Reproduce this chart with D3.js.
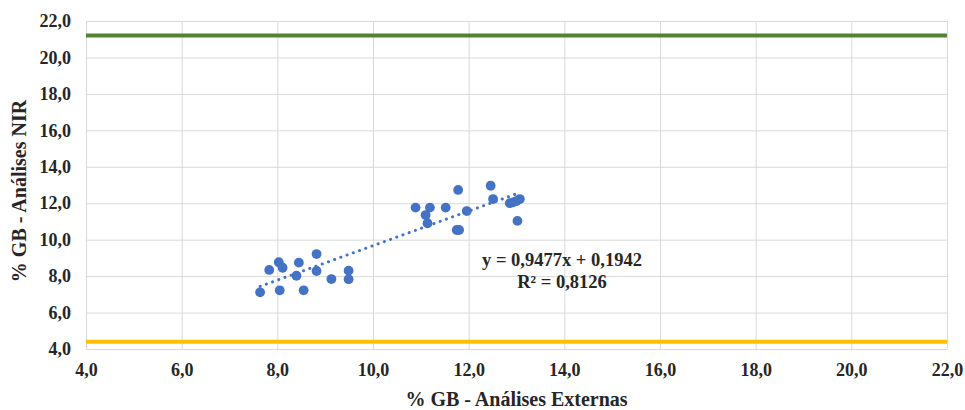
<!DOCTYPE html>
<html>
<head>
<meta charset="utf-8">
<script src="https://cdn.jsdelivr.net/npm/d3@7"></script>
<style>
  html, body { margin: 0; padding: 0; background: #fff; }
  svg { display: block; }
  text { font-family: "Liberation Serif", "Times New Roman", serif; font-weight: bold; fill: #262626; }
</style>
</head>
<body>
<svg id="chart" width="965" height="410"></svg>
<script>
// % GB measured by external lab (x) vs. NIR (y)
const externas = [7.64, 7.83, 8.03, 8.11, 8.05, 8.40, 8.45, 8.55, 8.82, 8.82, 9.13, 9.49, 9.49,
                  10.89, 11.19, 11.52, 11.78, 11.10, 11.14, 11.75, 11.80, 11.96, 12.46, 12.51,
                  12.86, 12.93, 13.00, 13.07, 13.02];
const nir      = [7.11, 8.34, 8.76, 8.46, 7.22, 8.02, 8.74, 7.22, 9.21, 8.28, 7.84, 8.30, 7.83,
                  11.76, 11.76, 11.76, 12.73, 11.35, 10.90, 10.53, 10.53, 11.57, 12.96, 12.23,
                  12.00, 12.05, 12.12, 12.23, 11.03];

// Linear trend shown on the chart
const slope = 0.9477;
const intercept = 0.1942;
const r2 = 0.8126;

// Horizontal limit lines
const upperLimit = 21.2;
const lowerLimit = 4.4;

const xTicks = [4, 6, 8, 10, 12, 14, 16, 18, 20, 22];
const yTicks = [4, 6, 8, 10, 12, 14, 16, 18, 20, 22];

const xTitle = "% GB - Análises Externas";
const yTitle = "% GB - Análises NIR";

const fmt = v => v.toFixed(1).replace(".", ",");
const fmt4 = v => v.toFixed(4).replace(".", ",");

const svg = d3.select("#chart");
const margin = { left: 86, right: 18, top: 21, bottom: 61 };
const W = 965, H = 410;

const x = d3.scaleLinear().domain([4, 22]).range([margin.left, W - margin.right]);
const y = d3.scaleLinear().domain([4, 22]).range([H - margin.bottom, margin.top]);

// Gridlines
svg.append("g")
  .attr("transform", `translate(0,${y(4)})`)
  .call(d3.axisBottom(x).tickValues(xTicks).tickSize(-(y(4) - y(22))).tickFormat(""))
  .call(g => g.select(".domain").remove())
  .call(g => g.selectAll("line").attr("stroke", "#d9d9d9").attr("stroke-width", 1));

svg.append("g")
  .attr("transform", `translate(${x(4)},0)`)
  .call(d3.axisLeft(y).tickValues(yTicks).tickSize(-(x(22) - x(4))).tickFormat(""))
  .call(g => g.select(".domain").remove())
  .call(g => g.selectAll("line").attr("stroke", "#d9d9d9").attr("stroke-width", 1));

// Axis lines and labels
svg.append("g")
  .attr("transform", `translate(0,${y(4)})`)
  .call(d3.axisBottom(x).tickValues(xTicks).tickSize(0).tickPadding(14).tickFormat(fmt))
  .call(g => g.select(".domain").attr("stroke", "#d9d9d9"))
  .call(g => g.selectAll("text").attr("font-size", 18).attr("font-family", "Liberation Serif").attr("font-weight", "bold").attr("fill", "#262626"));

svg.append("g")
  .attr("transform", `translate(${x(4)},0)`)
  .call(d3.axisLeft(y).tickValues(yTicks).tickSize(0).tickPadding(15).tickFormat(fmt))
  .call(g => g.select(".domain").attr("stroke", "#d9d9d9"))
  .call(g => g.selectAll("text").attr("font-size", 18).attr("font-family", "Liberation Serif").attr("font-weight", "bold").attr("fill", "#262626"));

// Limit lines
const limitLine = d3.line().x(d => x(d[0])).y(d => y(d[1]));
svg.append("path")
  .attr("d", limitLine([[4, upperLimit], [22, upperLimit]]))
  .attr("stroke", "#548235").attr("stroke-width", 4).attr("fill", "none");
svg.append("path")
  .attr("d", limitLine([[4, lowerLimit], [22, lowerLimit]]))
  .attr("stroke", "#FFC000").attr("stroke-width", 4).attr("fill", "none");

// Points
const pts = externas.map((v, i) => [v, nir[i]]);
svg.append("g").selectAll("circle")
  .data(pts).join("circle")
  .attr("cx", d => x(d[0])).attr("cy", d => y(d[1]))
  .attr("r", 4.9).attr("fill", "#4472C4");

// Trendline over the data range
const [xmin, xmax] = d3.extent(externas);
svg.append("path")
  .attr("d", limitLine([[xmin, slope * xmin + intercept], [xmax, slope * xmax + intercept]]))
  .attr("stroke", "#4472C4").attr("stroke-width", 3).attr("fill", "none")
  .attr("stroke-linecap", "round").attr("stroke-dasharray", "0.1 6.5");

// Equation label
svg.append("text")
  .attr("x", 562).attr("y", 266).attr("text-anchor", "middle").attr("font-size", 18.5)
  .text(`y = ${fmt4(slope)}x + ${fmt4(intercept)}`);
svg.append("text")
  .attr("x", 562).attr("y", 288).attr("text-anchor", "middle").attr("font-size", 18.5)
  .text(`R² = ${fmt4(r2)}`);

// Axis titles
svg.append("text")
  .attr("x", (x(4) + x(22)) / 2).attr("y", 406).attr("text-anchor", "middle").attr("font-size", 20)
  .text(xTitle);
svg.append("text")
  .attr("transform", `translate(26,${(y(4) + y(22)) / 2 + 6}) rotate(-90)`)
  .attr("text-anchor", "middle").attr("font-size", 20)
  .text(yTitle);
</script>
</body>
</html>
